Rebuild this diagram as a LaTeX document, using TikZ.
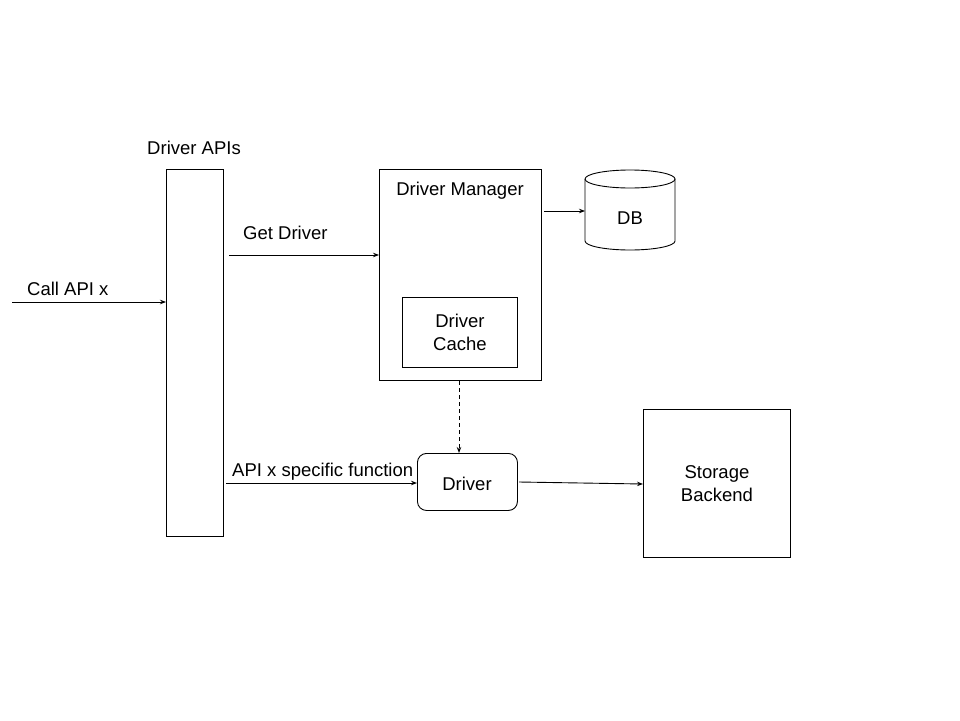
\documentclass[tikz,border=0pt]{standalone}
\usepackage{fontspec}
\setmainfont{Liberation Sans}
\usetikzlibrary{arrows.meta}
\begin{document}
\begin{tikzpicture}[x=1pt,y=-1pt,
  every node/.style={font=\fontsize{18.5}{22}\selectfont, inner sep=0pt},
  arr/.style={-{Stealth[length=6pt,width=4.5pt]}, line width=0.9pt},
  lbl/.style={anchor=base west}]
\useasboundingbox (0,0) rectangle (960,720);
% Driver APIs bar
\node[draw, line width=0.9pt, minimum width=57pt, minimum height=367pt, anchor=north west] (apis) at (166,169) {};
\node (apislbl) at (194,148) {Driver APIs};
% Driver Manager
\node[draw, line width=0.9pt, minimum width=162pt, minimum height=211pt, anchor=north west] (mgr) at (379,169) {};
\node (mgrlbl) at (460,191) {Driver Manager};
% Driver Cache
\node[draw, line width=0.9pt, minimum width=115pt, minimum height=70pt, anchor=north west, align=center] (cache) at (402,297) {Driver\\[1pt]Cache};
% DB cylinder
\draw[line width=0.9pt] (585,179) -- (585,241) arc[start angle=180, end angle=0, x radius=45, y radius=9] -- (675,179);
\draw[line width=0.9pt] (630,179) ellipse[x radius=45, y radius=9];
\node[minimum width=90pt, minimum height=80pt, anchor=north west] (db) at (585,170) {};
\node (dblbl) at (630,218) {DB};
% Driver
\node[draw, line width=0.9pt, rounded corners=9pt, minimum width=100pt, minimum height=57pt, anchor=north west] (drv) at (417,453) {};
\node (drvlbl) at (467,484) {Driver};
% Storage Backend
\node[draw, line width=0.9pt, minimum width=147pt, minimum height=148pt, anchor=north west, align=center] (stor) at (643,409) {Storage\\[1pt]Backend};
% connectors
\coordinate (callstart) at (12,302);
\draw[arr] (callstart) -- (callstart -| apis.west);
\node[lbl] (calllbl) at (27,295) {Call API x};
\coordinate (gd) at (229,255);
\draw[arr] (gd) -- (gd -| mgr.west);
\node[lbl] (gdlbl) at (243,239) {Get Driver};
\coordinate (mdb) at (544,211);
\draw[arr] (mdb) -- (mdb -| db.west);
\coordinate (mgrb) at (459,381);
\draw[arr, dash pattern=on 4pt off 3pt] (mgrb) -- (mgrb |- drv.north);
\coordinate (af) at (226,483);
\draw[arr] (af) -- (af -| drv.west);
\node[lbl] (aflbl) at (232,476) {API x specific function};
\coordinate (ds) at (519,482);
\draw[arr] (ds) -- (stor.west |- 0,484);
\end{tikzpicture}
\end{document}
